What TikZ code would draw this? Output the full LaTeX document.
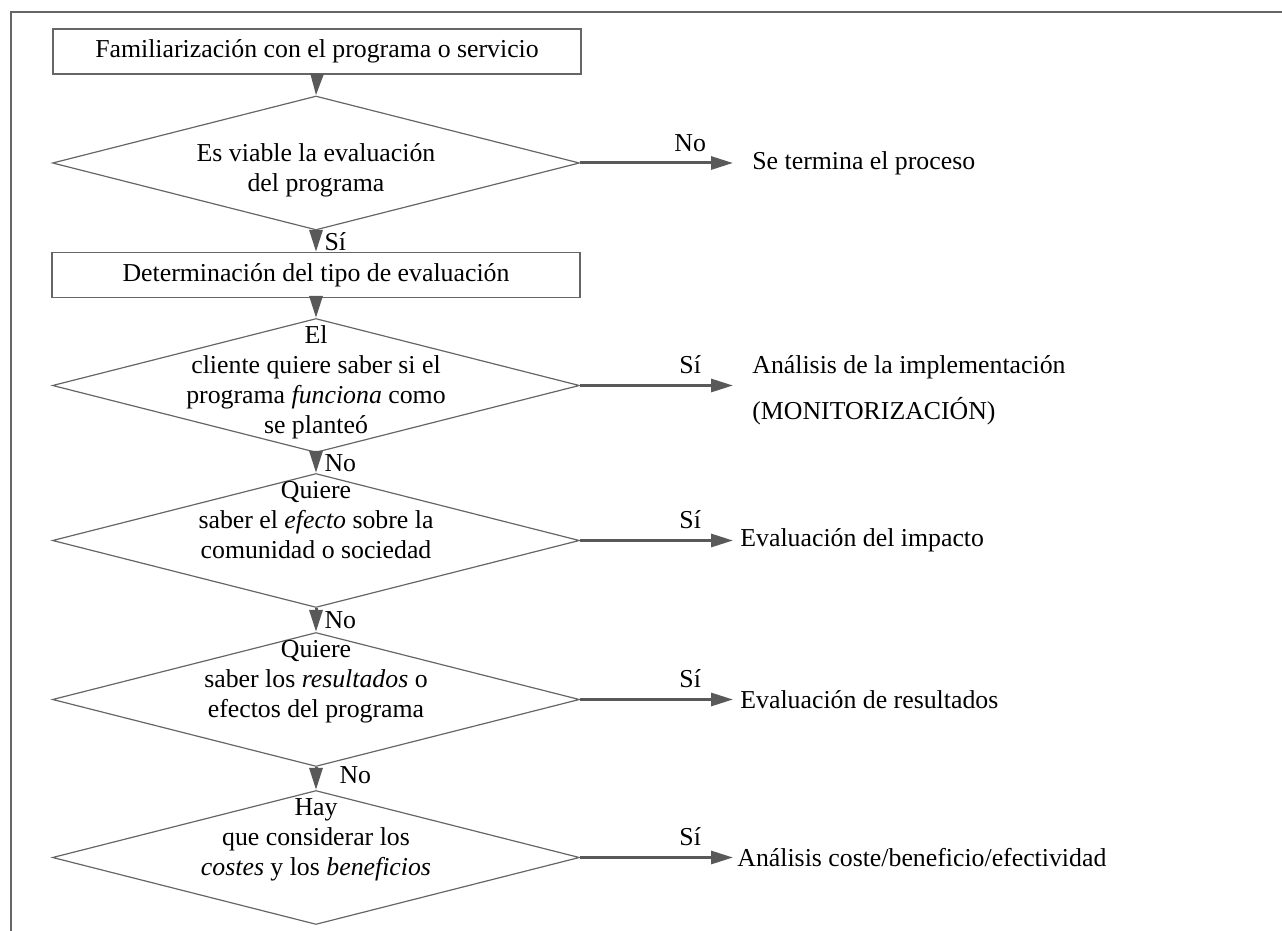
\documentclass[tikz,border=0pt]{standalone}
\usepackage{fontspec}
\setmainfont{Liberation Serif}
\usetikzlibrary{shapes.geometric,arrows.meta}

\tikzset{
  stepbox/.style={draw=black!60, line width=0.6pt, minimum width=264pt, minimum height=22.5pt, inner sep=0pt},
  decision/.style={diamond, draw=black!60, line width=0.6pt, minimum width=263.5pt, minimum height=67pt, inner sep=0pt},
  qtext/.style={align=center, inner sep=0pt},
  outcome/.style={anchor=west, align=left, inner xsep=3.5pt},
  flow/.style={draw=black!65, line width=1.5pt, -{Triangle[length=11pt,width=6.5pt]}},
  lbl/.style={inner sep=1pt}
}

\begin{document}
\begin{tikzpicture}[x=0.5pt,y=-0.5pt,font=\fontsize{12.9}{15}\selectfont]
\useasboundingbox (0,0) rectangle (1282,931);
\draw[black!60, line width=0.7pt] (1282,12) -- (11,12) -- (11,931);

% boxes and decisions
\draw (317,51.5) node[stepbox] (fam) {Familiarización con el programa o servicio};
\draw (316,163) node[decision] (d1) {};
\draw (316,275) node[stepbox] (tipo) {Determinación del tipo de evaluación};
\draw (316,385.5) node[decision] (d2) {};
\draw (316,540.5) node[decision] (d3) {};
\draw (316,699.5) node[decision] (d4) {};
\draw (316,857.5) node[decision] (d5) {};

% texts in the decisions
\draw (d1) ++(0,7) node[qtext] (t1) {Es viable la evaluación\\del programa};
\draw (d2.north) ++(0,7) node[qtext, anchor=north] (t2) {El\\cliente quiere saber si el\\programa \textit{funciona} como\\se planteó};
\draw (d3.north) ++(0,8) node[qtext, anchor=north] (t3) {Quiere\\saber el \textit{efecto} sobre la\\comunidad o sociedad};
\draw (d4.north) ++(0,8) node[qtext, anchor=north] (t4) {Quiere\\saber los \textit{resultados} o\\efectos del programa};
\draw (d5.north) ++(0,8) node[qtext, anchor=north] (t5) {Hay\\que considerar los\\\textit{costes} y los \textit{beneficios}};

% outcomes
\draw (733,163) node[outcome, inner xsep=9.5pt] (fin) {Se termina el proceso};
\draw (733,390.5) node[outcome, inner xsep=9.5pt] (monit) {Análisis de la implementación\\[8pt](MONITORIZACIÓN)};
\draw (733,540.5) node[outcome] (impacto) {Evaluación del impacto};
\draw (733,699.5) node[outcome] (result) {Evaluación de resultados};
\draw (733,857.5) node[outcome, inner xsep=2pt] (coste) {Análisis coste/beneficio/efectividad};

% connectors
\draw[flow] (fam.south) -- (d1.north);
\draw[flow] (d1.south) -- node[lbl, right, xshift=2.5pt] {Sí} (tipo.north);
\draw[flow] (tipo.south) -- (d2.north);
\draw[flow] (d2.south) -- node[lbl, right, xshift=2.5pt] {No} (d3.north);
\draw[flow] (d3.south) -- node[lbl, right, xshift=2.5pt] {No} (d4.north);
\draw[flow] (d4.south) -- node[lbl, right, xshift=10pt, yshift=1.5pt] {No} (d5.north);

\draw[flow] (d1.east) -- node[lbl, above, pos=0.72, yshift=4pt] {No} (d1.east -| fin.west);
\draw[flow] (d2.east) -- node[lbl, above, pos=0.72, yshift=4pt] {Sí} (d2.east -| monit.west);
\draw[flow] (d3.east) -- node[lbl, above, pos=0.72, yshift=4pt] {Sí} (d3.east -| impacto.west);
\draw[flow] (d4.east) -- node[lbl, above, pos=0.72, yshift=4pt] {Sí} (d4.east -| result.west);
\draw[flow] (d5.east) -- node[lbl, above, pos=0.72, yshift=4pt] {Sí} (d5.east -| coste.west);

\end{tikzpicture}
\end{document}
